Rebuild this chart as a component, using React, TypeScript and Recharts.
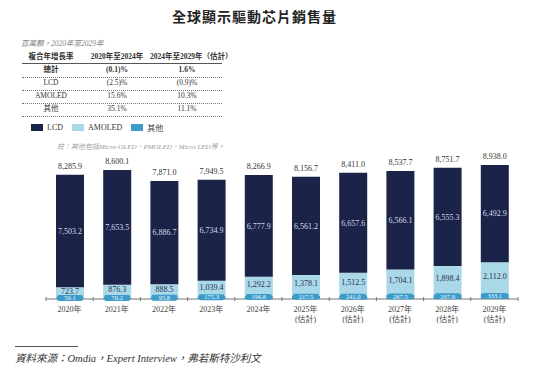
import React from 'react';
import { BarChart, Bar, XAxis, YAxis, LabelList } from 'recharts';

const years = ['2020年', '2021年', '2022年', '2023年', '2024年', '2025年', '2026年', '2027年', '2028年', '2029年'];
const isForecast = [false, false, false, false, false, true, true, true, true, true];
const lcd = [7503.2, 7653.5, 6886.7, 6734.9, 6777.9, 6561.2, 6657.6, 6566.1, 6555.3, 6492.9];
const amoled = [723.7, 876.3, 888.5, 1039.4, 1292.2, 1378.1, 1512.5, 1704.1, 1898.4, 2112.0];
const other = [59.1, 70.2, 95.8, 175.3, 196.8, 217.5, 241.0, 267.5, 297.9, 333.1];
const totals = [8285.9, 8600.1, 7871.0, 7949.5, 8266.9, 8156.7, 8411.0, 8537.7, 8751.7, 8938.0];

const cagrRows = ['總計', 'LCD', 'AMOLED', '其他'];
const cagr2020to2024 = ['(0.1)%', '(2.5)%', '15.6%', '35.1%'];
const cagr2024to2029 = ['1.6%', '(0.9)%', '10.3%', '11.1%'];

const COLORS = { lcd: '#1b2349', amoled: '#a9d8e9', other: '#3d9bca' };
const SERIF = '"Times New Roman", "Liberation Serif", "DejaVu Serif", "Noto Sans CJK TC", serif';
const CJK = '"Noto Sans CJK TC", "Noto Sans CJK SC", sans-serif';

const fmt = (v: number) =>
  v.toLocaleString('en-US', { minimumFractionDigits: 1, maximumFractionDigits: 1 });

const data = years.map((y, i) => ({
  year: y,
  lcd: lcd[i],
  amoled: amoled[i],
  other: other[i],
  total: totals[i],
}));

const PLOT_LEFT = 46;
const PLOT_RIGHT = 35;
const BAND = (553 - PLOT_LEFT - PLOT_RIGHT) / years.length;

const YearTick = (props: any) => {
  const { x, y, payload, index } = props;
  const fc = isForecast[index];
  return (
    <g>
      <line x1={x - BAND / 2} x2={x - BAND / 2} y1={y - 10} y2={y - 6} stroke="#777" />
      {index === years.length - 1 && (
        <line x1={x + BAND / 2} x2={x + BAND / 2} y1={y - 10} y2={y - 6} stroke="#777" />
      )}
      <text x={x} y={y + 5} textAnchor="middle" fontSize={8} fill="#444" fontFamily={SERIF}>
        {payload.value}
      </text>
      {fc && (
        <text x={x} y={y + 15} textAnchor="middle" fontSize={8} fill="#444" fontFamily={SERIF}>
          (估計)
        </text>
      )}
    </g>
  );
};

const OtherLabel = (props: any) => {
  const { x, y, width, height, value } = props;
  const cx = x + width / 2;
  const cy = y + height / 2 - 0.5;
  return (
    <g>
      <rect x={x + 1} y={cy - 3} width={width - 2} height={6} rx={2} fill={COLORS.other} />
      <text x={cx} y={cy + 2.3} textAnchor="middle" fontSize={6.5} fill="#eef6fb" fontFamily={SERIF}>
        {fmt(value)}
      </text>
    </g>
  );
};

const AmoledLabel = (props: any) => {
  const { x, y, width, height, value } = props;
  return (
    <text x={x + width / 2} y={y + height / 2 + 1} textAnchor="middle" fontSize={8} fill="#2a3050" fontFamily={SERIF}>
      {fmt(value)}
    </text>
  );
};

const TotalLabel = (props: any) => {
  const { x, y, width, index } = props;
  return (
    <text x={x + width / 2} y={y - 6} textAnchor="middle" fontSize={8} fill="#333" fontFamily={SERIF}>
      {fmt(totals[index])}
    </text>
  );
};

const rowY = [70, 83, 96, 109];
const colStyle = (left: number, width: number): React.CSSProperties => ({
  position: 'absolute', left, width, textAlign: 'center', whiteSpace: 'nowrap',
});

export default function App() {
  return (
    <div style={{ position: 'absolute', left: 0, top: 0, width: 553, height: 370, background: '#fff', fontFamily: SERIF }}>
      <div style={{ position: 'absolute', left: 0, width: 509, top: 6, textAlign: 'center', fontFamily: CJK, fontSize: 14, fontWeight: 700, color: '#222', letterSpacing: 1 }}>
        全球顯示驅動芯片銷售量
      </div>

      <div style={{ position: 'absolute', left: 21, top: 37, fontSize: 7.5, fontStyle: 'italic', color: '#888' }}>
        百萬顆，2020年至2029年
      </div>

      {/* CAGR table */}
      <div style={{ position: 'absolute', left: 22, top: 52, width: 200, fontSize: 7.5, color: '#333', lineHeight: '10px' }}>
        <div style={{ ...colStyle(4, 50), fontWeight: 700 }}>複合年增長率</div>
        <div style={{ ...colStyle(68, 54), fontWeight: 700 }}>2020年至2024年</div>
        <div style={{ ...colStyle(128, 74), fontWeight: 700 }}>2024年至2029年（估計）</div>
        <div style={{ position: 'absolute', left: 0, width: 200, top: 11, borderTop: '1px solid #555' }} />
      </div>
      {cagrRows.map((r, i) => (
        <div key={r} style={{ position: 'absolute', left: 22, top: rowY[i] - 5, width: 200, fontSize: 7.5, lineHeight: '10px', color: '#333', fontWeight: i === 0 ? 700 : 400 }}>
          <div style={colStyle(4, 50)}>{r}</div>
          <div style={colStyle(68, 54)}>{cagr2020to2024[i]}</div>
          <div style={colStyle(128, 74)}>{cagr2024to2029[i]}</div>
          <div style={{ position: 'absolute', left: 0, width: 200, top: 12, borderTop: '1px dotted #777' }} />
        </div>
      ))}

      {/* legend */}
      <div style={{ position: 'absolute', left: 31, top: 122, display: 'flex', alignItems: 'center', fontSize: 8, color: '#333' }}>
        <span style={{ width: 12, height: 7, background: COLORS.lcd, display: 'inline-block', marginRight: 4 }} />
        <span style={{ marginRight: 9 }}>LCD</span>
        <span style={{ width: 12, height: 7, background: COLORS.amoled, display: 'inline-block', marginRight: 4 }} />
        <span style={{ marginRight: 9 }}>AMOLED</span>
        <span style={{ width: 12, height: 7, background: COLORS.other, display: 'inline-block', marginRight: 4 }} />
        <span>其他</span>
      </div>

      <div style={{ position: 'absolute', left: 57, top: 141, fontSize: 7, fontStyle: 'italic', color: '#999' }}>
        註：其他包括Micro-OLED、PMOLED、Micro LED等。
      </div>

      <div style={{ position: 'absolute', left: 0, top: 0 }}>
        <BarChart
          width={553}
          height={370}
          data={data}
          margin={{ top: 149, right: PLOT_RIGHT, left: PLOT_LEFT, bottom: 41 }}
          barSize={28}
        >
          <YAxis hide domain={[0, 10000]} />
          <XAxis
            dataKey="year"
            height={30}
            axisLine={{ stroke: '#777' }}
            tickLine={false}
            tick={<YearTick />}
            interval={0}
          />
          <Bar dataKey="other" stackId="a" fill={COLORS.other} isAnimationActive={false}>
            <LabelList dataKey="other" content={<OtherLabel />} />
          </Bar>
          <Bar dataKey="amoled" stackId="a" fill={COLORS.amoled} isAnimationActive={false}>
            <LabelList dataKey="amoled" content={<AmoledLabel />} />
          </Bar>
          <Bar dataKey="lcd" stackId="a" fill={COLORS.lcd} isAnimationActive={false}>
            <LabelList
              dataKey="lcd"
              position="center"
              formatter={(v: any) => fmt(v)}
              style={{ fontSize: 8, fill: '#d6dae6', fontFamily: SERIF }}
            />
            <LabelList dataKey="total" content={<TotalLabel />} />
          </Bar>
        </BarChart>
      </div>

      <div style={{ position: 'absolute', left: 15, top: 346, width: 63, borderTop: '1px solid #555' }} />
      <div style={{ position: 'absolute', left: 15, top: 350, fontSize: 10.5, fontStyle: 'italic', color: '#333' }}>
        資料來源：Omdia，Expert Interview，弗若斯特沙利文
      </div>
    </div>
  );
}
